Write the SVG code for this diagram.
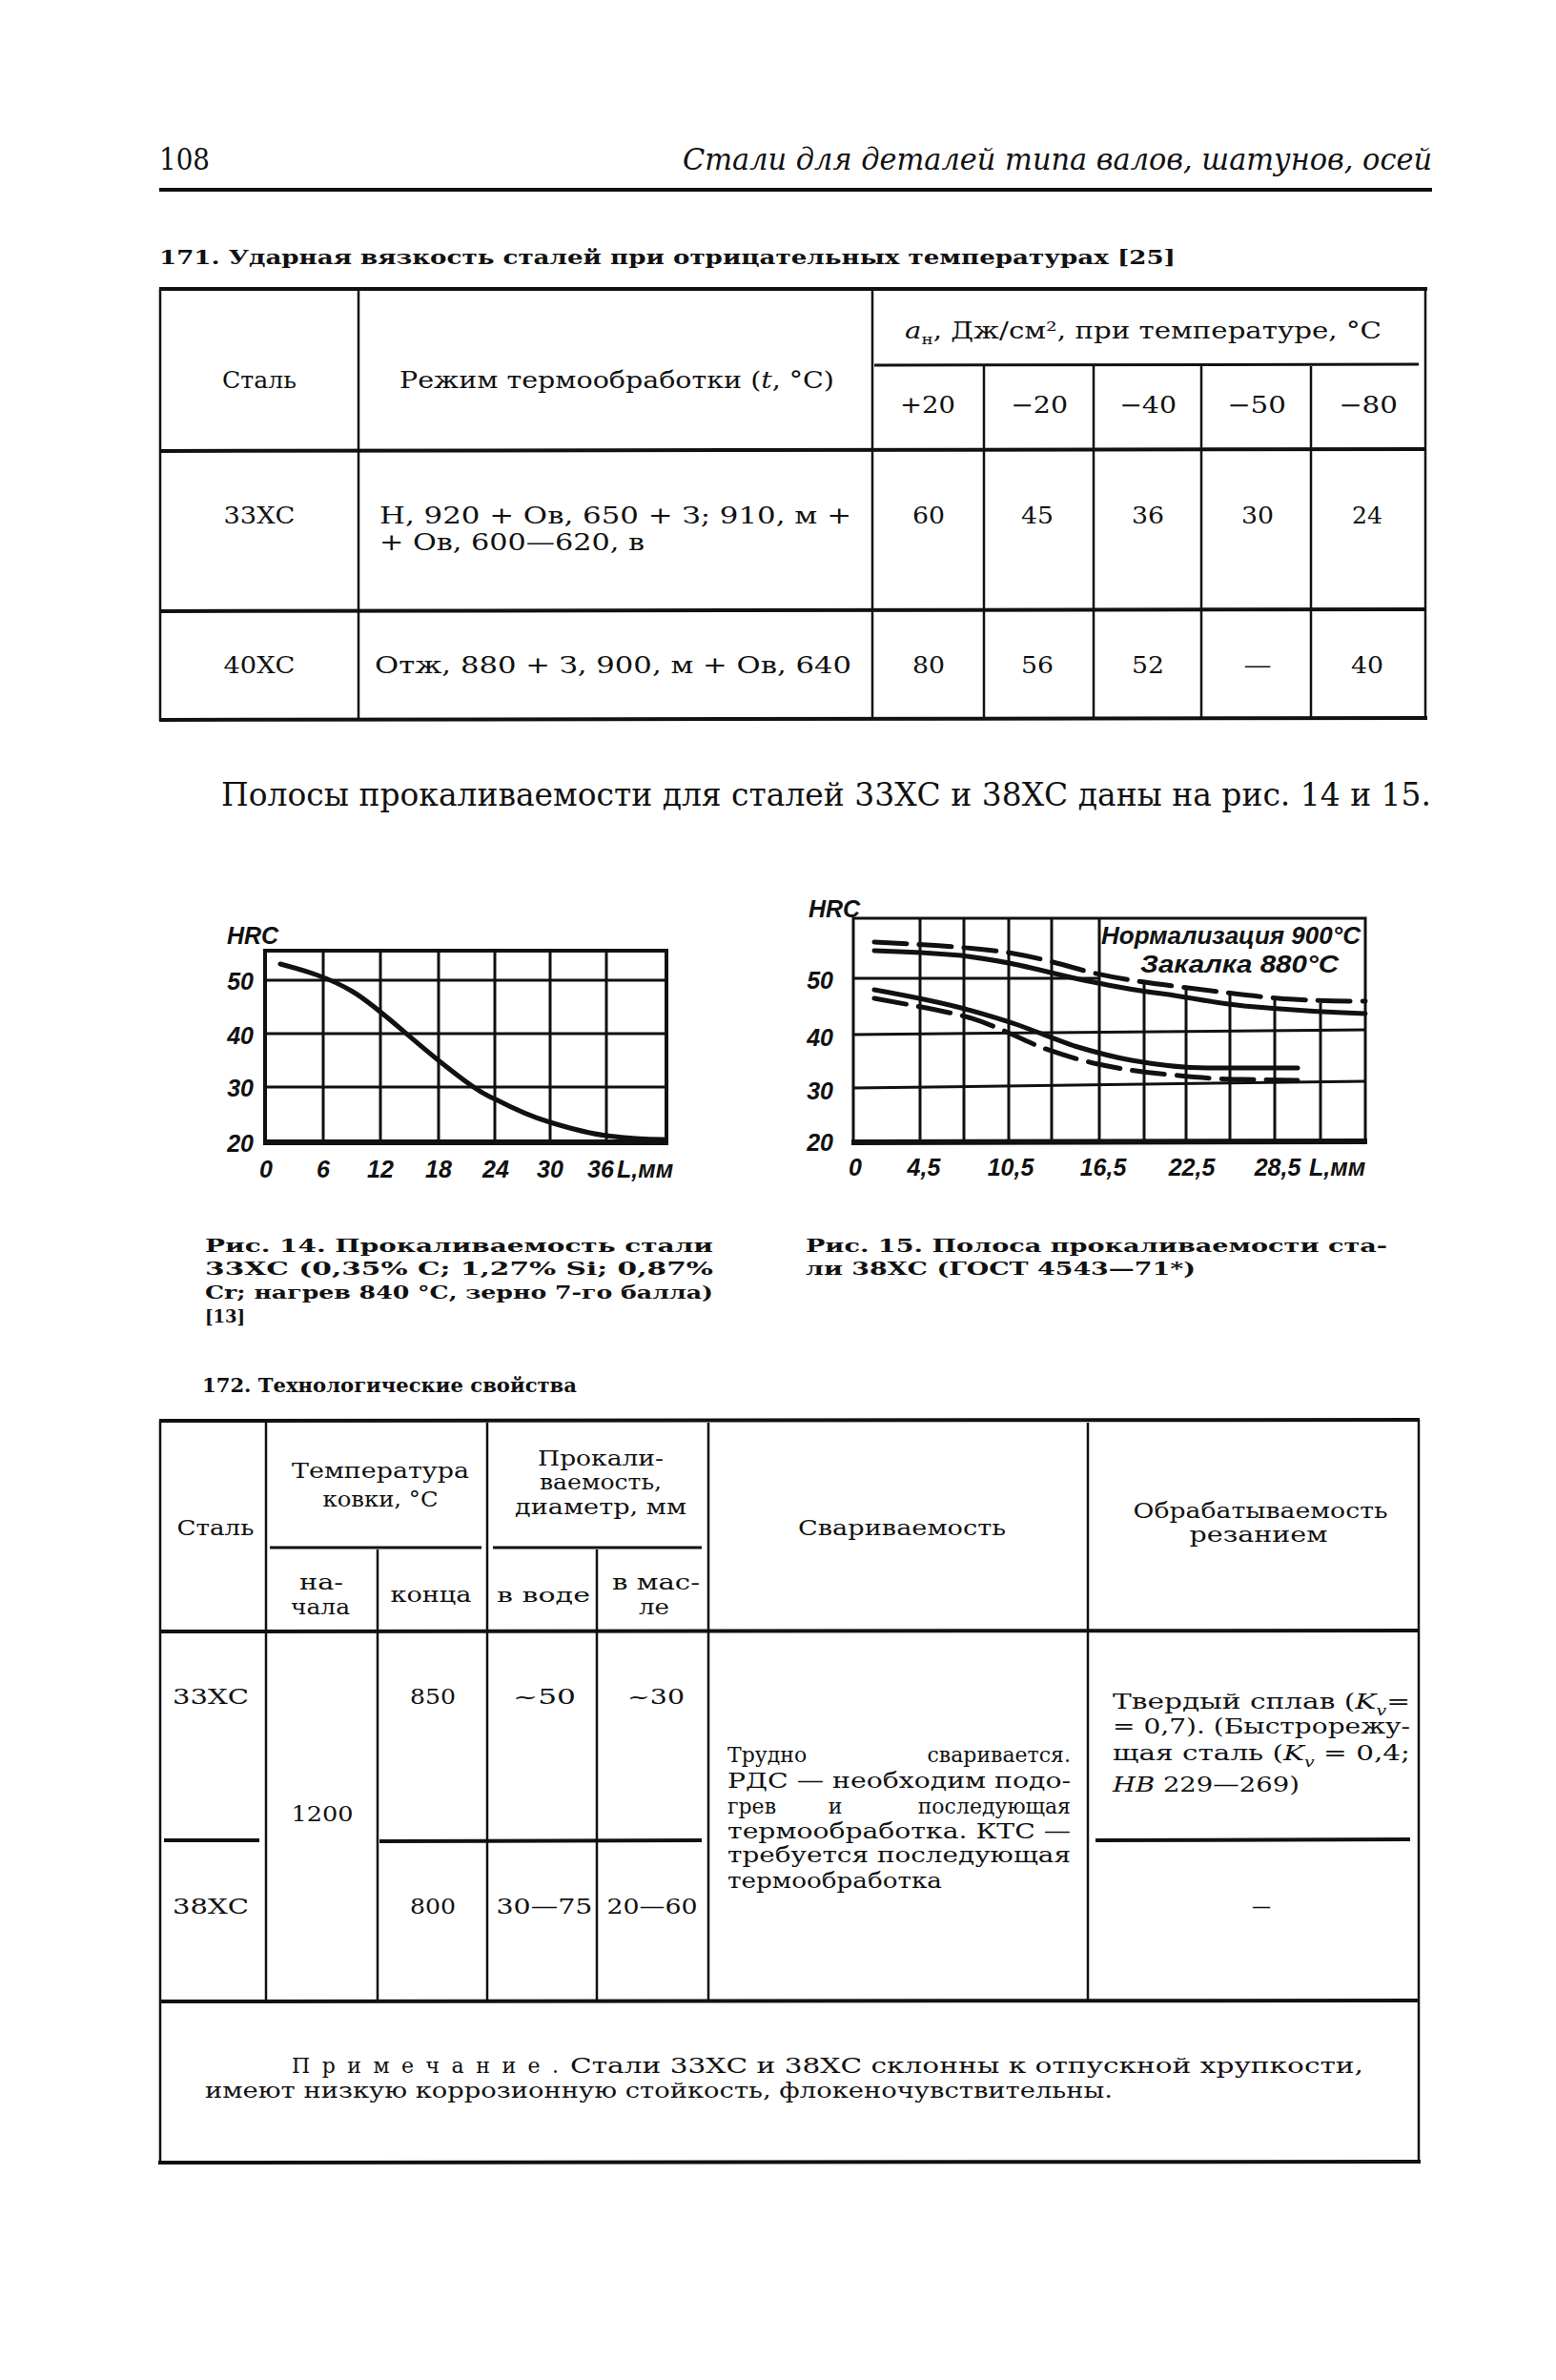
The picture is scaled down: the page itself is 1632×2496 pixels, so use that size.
<svg xmlns="http://www.w3.org/2000/svg" width="1632" height="2496" viewBox="0 0 1632 2496">
<defs>
<style>
.t{font-family:"DejaVu Serif","Liberation Serif",serif;fill:#111}
.b{font-weight:bold}
.i{font-style:italic}
.c{text-anchor:middle}
.e{text-anchor:end}
.g{font-family:"Liberation Sans","DejaVu Sans",sans-serif;font-style:italic;font-weight:bold;fill:#111;font-size:25px}
.ln{stroke:#111;fill:none}
.r4{stroke-width:4}
.r3{stroke-width:3}
.r2{stroke-width:2.5}
.cv{stroke:#111;fill:none;stroke-width:5;stroke-linecap:round}
.ds{stroke-dasharray:34 13}
</style>
</defs>
<rect x="0" y="0" width="1632" height="2496" fill="#fff"/>

<g id="page-header">
<text class="t" x="167" y="178" font-size="32" textLength="53" lengthAdjust="spacingAndGlyphs">108</text>
<text class="t i" x="716" y="178" font-size="32" textLength="786" lengthAdjust="spacingAndGlyphs">Стали для деталей типа валов, шатунов, осей</text>
<line class="ln r4" x1="167" y1="199" x2="1502" y2="199"/>
</g>

<g id="table171">
<text class="t b" x="167" y="277" font-size="20" textLength="1066" lengthAdjust="spacingAndGlyphs">171. Ударная вязкость сталей при отрицательных температурах [25]</text>
<g id="table171-lines">
<line class="ln r4" x1="167" y1="303" x2="1497" y2="303"/>
<line class="ln r2" x1="168" y1="303" x2="168" y2="756"/>
<line class="ln r2" x1="376" y1="305" x2="376" y2="754"/>
<line class="ln r2" x1="915" y1="305" x2="915" y2="754"/>
<line class="ln r2" x1="1495" y1="303" x2="1495" y2="754"/>
<line class="ln r3" x1="917" y1="383" x2="1488" y2="382"/>
<line class="ln r2" x1="1032" y1="384" x2="1032" y2="754"/>
<line class="ln r2" x1="1147" y1="384" x2="1147" y2="754"/>
<line class="ln r2" x1="1260" y1="384" x2="1260" y2="754"/>
<line class="ln r2" x1="1375" y1="384" x2="1375" y2="754"/>
<line class="ln r4" x1="168" y1="473" x2="1494" y2="471"/>
<line class="ln r4" x1="168" y1="641" x2="1494" y2="639"/>
<line class="ln r4" x1="167" y1="755" x2="1497" y2="753"/>
</g>
<g id="table171-head">
<text class="t c" x="272" y="407" font-size="24" textLength="78" lengthAdjust="spacingAndGlyphs">Сталь</text>
<text class="t" x="419" y="407" font-size="24" textLength="456" lengthAdjust="spacingAndGlyphs">Режим термообработки (<tspan class="i">t</tspan>, °С)</text>
<text class="t" x="949" y="355" font-size="24" textLength="500" lengthAdjust="spacingAndGlyphs"><tspan class="i">a</tspan><tspan dy="6" font-size="15">н</tspan><tspan dy="-6">, Дж/см², при температуре, °С</tspan></text>
<text class="t c" x="973" y="433" font-size="24" textLength="58" lengthAdjust="spacingAndGlyphs">+20</text>
<text class="t c" x="1090" y="433" font-size="24" textLength="60" lengthAdjust="spacingAndGlyphs">−20</text>
<text class="t c" x="1204" y="433" font-size="24" textLength="60" lengthAdjust="spacingAndGlyphs">−40</text>
<text class="t c" x="1318" y="433" font-size="24" textLength="62" lengthAdjust="spacingAndGlyphs">−50</text>
<text class="t c" x="1435" y="433" font-size="24" textLength="62" lengthAdjust="spacingAndGlyphs">−80</text>
</g>
<g id="table171-row1">
<text class="t c" x="272" y="549" font-size="24" textLength="75" lengthAdjust="spacingAndGlyphs">33ХС</text>
<text class="t" x="398" y="549" font-size="24" textLength="495" lengthAdjust="spacingAndGlyphs">Н, 920 + Ов, 650 + З; 910, м +</text>
<text class="t" x="398" y="577" font-size="24" textLength="278" lengthAdjust="spacingAndGlyphs">+ Ов, 600—620, в</text>
<text class="t c" x="974" y="549" font-size="24" textLength="34" lengthAdjust="spacingAndGlyphs">60</text>
<text class="t c" x="1088" y="549" font-size="24" textLength="34" lengthAdjust="spacingAndGlyphs">45</text>
<text class="t c" x="1204" y="549" font-size="24" textLength="34" lengthAdjust="spacingAndGlyphs">36</text>
<text class="t c" x="1319" y="549" font-size="24" textLength="34" lengthAdjust="spacingAndGlyphs">30</text>
<text class="t c" x="1434" y="549" font-size="24" textLength="32" lengthAdjust="spacingAndGlyphs">24</text>
</g>
<g id="table171-row2">
<text class="t c" x="272" y="706" font-size="24" textLength="75" lengthAdjust="spacingAndGlyphs">40ХС</text>
<text class="t" x="393" y="706" font-size="24" textLength="500" lengthAdjust="spacingAndGlyphs">Отж, 880 + З, 900, м + Ов, 640</text>
<text class="t c" x="974" y="706" font-size="24" textLength="34" lengthAdjust="spacingAndGlyphs">80</text>
<text class="t c" x="1088" y="706" font-size="24" textLength="34" lengthAdjust="spacingAndGlyphs">56</text>
<text class="t c" x="1204" y="706" font-size="24" textLength="34" lengthAdjust="spacingAndGlyphs">52</text>
<text class="t c" x="1319" y="706" font-size="24" textLength="29" lengthAdjust="spacingAndGlyphs">—</text>
<text class="t c" x="1434" y="706" font-size="24" textLength="34" lengthAdjust="spacingAndGlyphs">40</text>
</g>
</g>

<g id="paragraph">
<text class="t" x="232" y="845" font-size="33" textLength="1269" lengthAdjust="spacingAndGlyphs">Полосы прокаливаемости для сталей 33ХС и 38ХС даны на рис. 14 и 15.</text>
</g>

<g id="fig14">
<g id="fig14-grid">
<line class="ln r3" x1="339" y1="997" x2="339" y2="1198"/>
<line class="ln r3" x1="399" y1="997" x2="399" y2="1198"/>
<line class="ln r3" x1="460" y1="997" x2="460" y2="1198"/>
<line class="ln r3" x1="519" y1="997" x2="519" y2="1198"/>
<line class="ln r3" x1="577" y1="997" x2="577" y2="1198"/>
<line class="ln r3" x1="636" y1="997" x2="636" y2="1198"/>
<line class="ln r3" x1="278" y1="1028" x2="699" y2="1028"/>
<line class="ln r3" x1="278" y1="1084" x2="699" y2="1084"/>
<line class="ln r3" x1="278" y1="1140" x2="699" y2="1140"/>
<rect class="ln r4" x="278" y="997" width="421" height="201"/>
<line class="ln" stroke-width="6" x1="276" y1="1198" x2="701" y2="1198"/>
</g>
<path class="cv" stroke-width="6" d="M294,1011 C320,1018 345,1025 370,1040 C395,1055 420,1080 461,1113 C490,1136 505,1147 520,1153 C545,1166 560,1172 577,1177 C600,1184 620,1189 636,1191 C660,1194 680,1195 696,1195"/>
<g id="fig14-labels">
<text class="g" x="238" y="990" font-size="24">HRC</text>
<text class="g e" x="266" y="1038">50</text>
<text class="g e" x="266" y="1095">40</text>
<text class="g e" x="266" y="1150">30</text>
<text class="g e" x="266" y="1208">20</text>
<text class="g c" x="279" y="1235">0</text>
<text class="g c" x="339" y="1235">6</text>
<text class="g c" x="399" y="1235">12</text>
<text class="g c" x="460" y="1235">18</text>
<text class="g c" x="520" y="1235">24</text>
<text class="g c" x="577" y="1235">30</text>
<text class="g c" x="630" y="1235">36</text>
<text class="g" x="647" y="1235">L,мм</text>
</g>
</g>

<g id="fig15">
<g id="fig15-grid">
<line class="ln r3" x1="965" y1="963" x2="965" y2="1198"/>
<line class="ln r3" x1="1011" y1="963" x2="1011" y2="1198"/>
<line class="ln r3" x1="1058" y1="963" x2="1058" y2="1198"/>
<line class="ln r3" x1="1103" y1="963" x2="1103" y2="1198"/>
<line class="ln r3" x1="1153" y1="963" x2="1153" y2="1198"/>
<line class="ln r3" x1="1200" y1="1028" x2="1200" y2="1198"/>
<line class="ln r3" x1="1244" y1="1035" x2="1244" y2="1198"/>
<line class="ln r3" x1="1290" y1="1040" x2="1290" y2="1198"/>
<line class="ln r3" x1="1337" y1="1047" x2="1337" y2="1198"/>
<line class="ln r3" x1="1385" y1="1052" x2="1385" y2="1198"/>
<line class="ln r3" x1="895" y1="1026" x2="1153" y2="1026"/>
<line class="ln r3" x1="895" y1="1085" x2="1432" y2="1080"/>
<line class="ln r3" x1="895" y1="1141" x2="1432" y2="1134"/>
<rect class="ln r3" x="895" y="963" width="537" height="235"/>
<line class="ln" stroke-width="6" x1="893" y1="1198" x2="1434" y2="1197"/>
</g>
<g id="fig15-curves">
<path class="cv ds" d="M917,988 C960,990 1010,993 1052,998 C1090,1004 1115,1012 1141,1019 C1175,1027 1205,1031 1238,1035 C1280,1040 1320,1046 1357,1048 C1390,1050 1415,1050 1432,1050"/>
<path class="cv" stroke-width="4.5" d="M917,997 C950,998 985,1000 1008,1002 C1030,1005 1050,1008 1068,1012 C1100,1019 1120,1025 1147,1030 C1175,1036 1200,1040 1226,1043 C1255,1048 1280,1052 1305,1055 C1350,1059 1400,1062 1432,1063"/>
<path class="cv" stroke-width="4.5" d="M917,1038 C950,1044 985,1051 1008,1057 C1030,1063 1050,1069 1068,1075 C1090,1083 1110,1091 1127,1097 C1150,1104 1170,1109 1187,1112 C1215,1117 1240,1120 1266,1120 L1361,1120"/>
<path class="cv ds" d="M917,1047 C950,1053 990,1060 1016,1067 C1045,1076 1070,1089 1091,1098 C1110,1105 1130,1111 1147,1115 C1175,1121 1200,1125 1226,1127 C1255,1130 1280,1132 1305,1132 L1361,1133"/>
</g>
<g id="fig15-labels">
<text class="g" x="1155" y="990" font-size="24" textLength="272" lengthAdjust="spacingAndGlyphs">Нормализация 900°С</text>
<text class="g" x="1196" y="1020" font-size="24" textLength="208" lengthAdjust="spacingAndGlyphs">Закалка 880°С</text>
<text class="g" x="848" y="962" font-size="24">HRC</text>
<text class="g e" x="874" y="1037">50</text>
<text class="g e" x="874" y="1097">40</text>
<text class="g e" x="874" y="1153">30</text>
<text class="g e" x="874" y="1207">20</text>
<text class="g c" x="897" y="1233">0</text>
<text class="g c" x="969" y="1233">4,5</text>
<text class="g c" x="1060" y="1233">10,5</text>
<text class="g c" x="1157" y="1233">16,5</text>
<text class="g c" x="1250" y="1233">22,5</text>
<text class="g c" x="1340" y="1233">28,5</text>
<text class="g" x="1373" y="1233">L,мм</text>
</g>
</g>

<g id="captions">
<text class="t b" x="215" y="1313" font-size="18" textLength="533" lengthAdjust="spacingAndGlyphs">Рис. 14. Прокаливаемость стали</text>
<text class="t b" x="215" y="1337" font-size="18" textLength="533" lengthAdjust="spacingAndGlyphs">33ХС (0,35% С; 1,27% Si; 0,87%</text>
<text class="t b" x="215" y="1362" font-size="18" textLength="533" lengthAdjust="spacingAndGlyphs">Cr; нагрев 840 °С, зерно 7-го балла)</text>
<text class="t b" x="215" y="1387" font-size="18">[13]</text>
<text class="t b" x="845" y="1313" font-size="18" textLength="610" lengthAdjust="spacingAndGlyphs">Рис. 15. Полоса прокаливаемости ста-</text>
<text class="t b" x="845" y="1337" font-size="18" textLength="409" lengthAdjust="spacingAndGlyphs">ли 38ХС (ГОСТ 4543—71*)</text>
</g>

<g id="table172">
<text class="t b" x="212" y="1460" font-size="20" textLength="393" lengthAdjust="spacingAndGlyphs">172. Технологические свойства</text>
<g id="table172-lines">
<line class="ln r4" x1="167" y1="1490" x2="1489" y2="1489"/>
<line class="ln r2" x1="168" y1="1490" x2="168" y2="2269"/>
<line class="ln r2" x1="279" y1="1492" x2="279" y2="2098"/>
<line class="ln r2" x1="511" y1="1492" x2="511" y2="2098"/>
<line class="ln r2" x1="743" y1="1492" x2="743" y2="2098"/>
<line class="ln r2" x1="1141" y1="1492" x2="1141" y2="2098"/>
<line class="ln r2" x1="1488" y1="1489" x2="1488" y2="2268"/>
<line class="ln r3" x1="283" y1="1623" x2="505" y2="1623"/>
<line class="ln r3" x1="517" y1="1623" x2="736" y2="1623"/>
<line class="ln r2" x1="396" y1="1625" x2="396" y2="2098"/>
<line class="ln r2" x1="626" y1="1625" x2="626" y2="2098"/>
<line class="ln r4" x1="168" y1="1711" x2="1488" y2="1710"/>
<line class="ln r4" x1="172" y1="1930" x2="272" y2="1930"/>
<line class="ln r4" x1="398" y1="1931" x2="736" y2="1930"/>
<line class="ln r4" x1="1149" y1="1930" x2="1479" y2="1929"/>
<line class="ln r4" x1="168" y1="2099" x2="1488" y2="2098"/>
<line class="ln r4" x1="166" y1="2268" x2="1490" y2="2267"/>
</g>
<g id="table172-head">
<text class="t c" x="226" y="1610" font-size="23" textLength="81" lengthAdjust="spacingAndGlyphs">Сталь</text>
<text class="t c" x="399" y="1550" font-size="23" textLength="186" lengthAdjust="spacingAndGlyphs">Температура</text>
<text class="t c" x="399" y="1580" font-size="23" textLength="121" lengthAdjust="spacingAndGlyphs">ковки, °С</text>
<text class="t c" x="630" y="1537" font-size="23" textLength="132" lengthAdjust="spacingAndGlyphs">Прокали-</text>
<text class="t c" x="630" y="1562" font-size="23" textLength="128" lengthAdjust="spacingAndGlyphs">ваемость,</text>
<text class="t c" x="630" y="1588" font-size="23" textLength="180" lengthAdjust="spacingAndGlyphs">диаметр, мм</text>
<text class="t c" x="946" y="1610" font-size="23" textLength="218" lengthAdjust="spacingAndGlyphs">Свариваемость</text>
<text class="t c" x="1322" y="1592" font-size="23" textLength="267" lengthAdjust="spacingAndGlyphs">Обрабатываемость</text>
<text class="t c" x="1320" y="1617" font-size="23" textLength="145" lengthAdjust="spacingAndGlyphs">резанием</text>
<text class="t c" x="337" y="1667" font-size="23" textLength="46" lengthAdjust="spacingAndGlyphs">на-</text>
<text class="t c" x="336" y="1693" font-size="23" textLength="62" lengthAdjust="spacingAndGlyphs">чала</text>
<text class="t c" x="452" y="1680" font-size="23" textLength="85" lengthAdjust="spacingAndGlyphs">конца</text>
<text class="t c" x="570" y="1680" font-size="21" textLength="98" lengthAdjust="spacingAndGlyphs">в воде</text>
<text class="t c" x="688" y="1667" font-size="23" textLength="92" lengthAdjust="spacingAndGlyphs">в мас-</text>
<text class="t c" x="686" y="1693" font-size="23" textLength="32" lengthAdjust="spacingAndGlyphs">ле</text>
</g>
<g id="table172-row1">
<text class="t c" x="221" y="1787" font-size="23" textLength="80" lengthAdjust="spacingAndGlyphs">33ХС</text>
<text class="t c" x="454" y="1787" font-size="23" textLength="48" lengthAdjust="spacingAndGlyphs">850</text>
<text class="t c" x="571" y="1787" font-size="23" textLength="66" lengthAdjust="spacingAndGlyphs">~50</text>
<text class="t c" x="688" y="1787" font-size="23" textLength="60" lengthAdjust="spacingAndGlyphs">~30</text>
<text class="t c" x="338" y="1910" font-size="23" textLength="65" lengthAdjust="spacingAndGlyphs">1200</text>
<text class="t" x="1167" y="1792" font-size="22" textLength="312" lengthAdjust="spacingAndGlyphs">Твердый сплав (<tspan class="i">K</tspan><tspan class="i" dy="7" font-size="14">v</tspan><tspan dy="-7">=</tspan></text>
<text class="t" x="1167" y="1818" font-size="22" textLength="312" lengthAdjust="spacingAndGlyphs">= 0,7). (Быстрорежу-</text>
<text class="t" x="1167" y="1846" font-size="22" textLength="312" lengthAdjust="spacingAndGlyphs">щая сталь (<tspan class="i">K</tspan><tspan class="i" dy="7" font-size="14">v</tspan><tspan dy="-7"> = 0,4;</tspan></text>
<text class="t" x="1167" y="1879" font-size="22" textLength="196" lengthAdjust="spacingAndGlyphs"><tspan class="i">HB</tspan> 229—269)</text>
</g>
<g id="table172-weld">
<text class="t" x="763" y="1848" font-size="22">Трудно</text>
<text class="t e" x="1123" y="1848" font-size="22">сваривается.</text>
<text class="t" x="763" y="1875" font-size="22" textLength="360" lengthAdjust="spacingAndGlyphs">РДС — необходим подо-</text>
<text class="t" x="763" y="1902" font-size="22">грев</text>
<text class="t c" x="876" y="1902" font-size="22">и</text>
<text class="t e" x="1123" y="1902" font-size="22">последующая</text>
<text class="t" x="763" y="1928" font-size="22" textLength="360" lengthAdjust="spacingAndGlyphs">термообработка. КТС —</text>
<text class="t" x="763" y="1953" font-size="22" textLength="360" lengthAdjust="spacingAndGlyphs">требуется последующая</text>
<text class="t" x="763" y="1980" font-size="22" textLength="225" lengthAdjust="spacingAndGlyphs">термообработка</text>
</g>
<g id="table172-row2">
<text class="t c" x="221" y="2007" font-size="23" textLength="80" lengthAdjust="spacingAndGlyphs">38ХС</text>
<text class="t c" x="454" y="2007" font-size="23" textLength="48" lengthAdjust="spacingAndGlyphs">800</text>
<text class="t c" x="571" y="2007" font-size="23" textLength="101" lengthAdjust="spacingAndGlyphs">30—75</text>
<text class="t c" x="684" y="2007" font-size="23" textLength="95" lengthAdjust="spacingAndGlyphs">20—60</text>
<text class="t c" x="1323" y="2007" font-size="22" textLength="20" lengthAdjust="spacingAndGlyphs">—</text>
</g>
<g id="table172-note">
<text class="t" x="306" y="2174" font-size="22" letter-spacing="12.5">Примечание.</text>
<text class="t" x="598" y="2174" font-size="22" textLength="832" lengthAdjust="spacingAndGlyphs">Стали 33ХС и 38ХС склонны к отпускной хрупкости,</text>
<text class="t" x="215" y="2200" font-size="22" textLength="952" lengthAdjust="spacingAndGlyphs">имеют низкую коррозионную стойкость, флокеночувствительны.</text>
</g>
</g>
</svg>
